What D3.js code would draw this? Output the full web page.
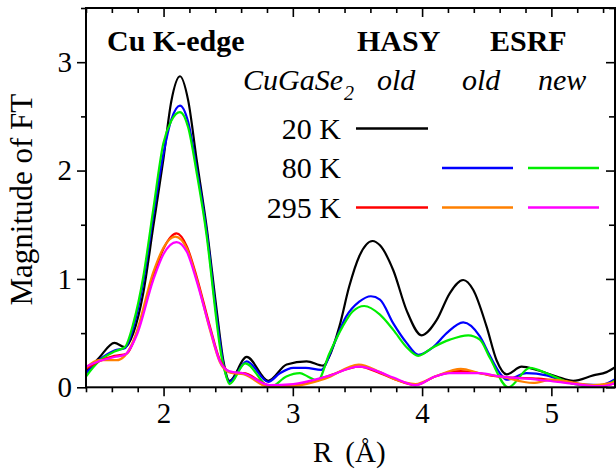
<!DOCTYPE html>
<html>
<head>
<meta charset="utf-8">
<script src="https://cdn.jsdelivr.net/npm/d3@7"></script>
<style>
  html, body { margin: 0; padding: 0; background: #fff; }
  svg { display: block; font-family: "Liberation Serif", "Times New Roman", serif; }
</style>
</head>
<body>
<svg id="chart" width="616" height="472"></svg>
<script>
// FT magnitude, Cu K-edge, CuGaSe2 — [R (Å), |FT|]
const hasy20K = [
  [1.40,0.14],[1.50,0.27],[1.62,0.41],[1.70,0.37],[1.766,0.50],[1.843,0.87],[1.92,1.48],
  [1.998,2.10],[2.06,2.64],[2.127,2.87],[2.19,2.65],[2.256,2.10],[2.333,1.48],[2.411,0.71],
  [2.462,0.25],[2.51,0.06],[2.643,0.28],[2.81,0.06],[2.952,0.21],[3.107,0.24],[3.235,0.20],
  [3.28,0.28],[3.36,0.56],[3.436,0.93],[3.514,1.21],[3.617,1.35],[3.674,1.31],[3.777,1.08],
  [3.88,0.71],[3.996,0.48],[4.112,0.62],[4.215,0.87],[4.318,0.99],[4.395,0.90],[4.499,0.56],
  [4.576,0.25],[4.654,0.12],[4.77,0.19],[4.886,0.16],[5.04,0.10],[5.169,0.06],[5.324,0.11],
  [5.427,0.14],[5.50,0.19]
];
const esrfOld80K = [
  [1.40,0.13],[1.50,0.25],[1.62,0.34],[1.70,0.36],[1.766,0.55],[1.843,0.97],[1.92,1.58],
  [1.998,2.15],[2.06,2.47],[2.127,2.60],[2.19,2.45],[2.256,2.02],[2.333,1.44],[2.411,0.65],
  [2.462,0.22],[2.51,0.05],[2.643,0.24],[2.81,0.05],[2.90,0.13],[3.003,0.18],[3.10,0.18],
  [3.22,0.16],[3.308,0.37],[3.411,0.65],[3.514,0.79],[3.604,0.84],[3.674,0.81],[3.777,0.59],
  [3.88,0.41],[3.97,0.30],[4.086,0.37],[4.19,0.50],[4.318,0.60],[4.447,0.47],[4.525,0.29],
  [4.602,0.13],[4.654,0.07],[4.808,0.13],[4.963,0.11],[5.143,0.04],[5.375,0.02],[5.50,0.08]
];
const esrfNew80K = [
  [1.40,0.10],[1.50,0.24],[1.62,0.33],[1.70,0.37],[1.766,0.59],[1.843,1.02],[1.92,1.64],
  [1.998,2.25],[2.06,2.46],[2.127,2.54],[2.19,2.40],[2.256,1.98],[2.333,1.40],[2.411,0.60],
  [2.436,0.37],[2.48,0.12],[2.51,0.03],[2.632,0.22],[2.823,0.0],[2.95,0.10],[3.055,0.13],
  [3.115,0.10],[3.192,0.06],[3.282,0.31],[3.385,0.56],[3.463,0.70],[3.552,0.75],[3.674,0.67],
  [3.777,0.53],[3.88,0.37],[3.97,0.29],[4.086,0.37],[4.215,0.44],[4.357,0.48],[4.447,0.44],
  [4.525,0.27],[4.666,0.0],[4.834,0.18],[4.963,0.13],[5.143,0.04],[5.375,0.0],[5.50,0.07]
];
const hasy295K = [
  [1.40,0.17],[1.50,0.24],[1.62,0.29],[1.715,0.31],[1.792,0.50],[1.92,1.02],[2.00,1.28],
  [2.10,1.42],[2.18,1.30],[2.256,1.02],[2.359,0.56],[2.436,0.25],[2.488,0.16],[2.54,0.13],
  [2.617,0.13],[2.82,0.02],[3.003,0.02],[3.262,0.10],[3.514,0.19],[3.674,0.13],[3.777,0.08],
  [3.95,0.02],[4.10,0.10],[4.30,0.15],[4.447,0.13],[4.525,0.11],[4.70,0.09],[4.90,0.08],
  [5.10,0.05],[5.375,0.01],[5.50,0.04]
];
const esrfOld295K = [
  [1.40,0.18],[1.50,0.25],[1.635,0.25],[1.70,0.29],[1.78,0.47],[1.92,1.06],[2.00,1.29],
  [2.09,1.39],[2.18,1.28],[2.256,1.00],[2.359,0.53],[2.436,0.23],[2.488,0.15],[2.54,0.13],
  [2.617,0.12],[2.82,0.0],[3.003,0.01],[3.25,0.08],[3.51,0.21],[3.674,0.14],[3.777,0.08],
  [3.95,0.03],[4.10,0.10],[4.30,0.17],[4.447,0.13],[4.60,0.10],[4.86,0.04],[5.00,0.07],
  [5.324,0.02],[5.50,0.05]
];
const esrfNew295K = [
  [1.40,0.19],[1.50,0.24],[1.62,0.28],[1.70,0.30],[1.792,0.48],[1.92,0.99],[2.00,1.23],
  [2.10,1.34],[2.18,1.25],[2.256,0.98],[2.359,0.54],[2.436,0.24],[2.488,0.16],[2.54,0.14],
  [2.617,0.13],[2.82,0.02],[3.003,0.03],[3.262,0.10],[3.514,0.19],[3.674,0.14],[3.777,0.09],
  [3.95,0.02],[4.10,0.10],[4.215,0.13],[4.447,0.13],[4.60,0.10],[4.808,0.08],[5.05,0.05],
  [5.375,0.01],[5.50,0.04]
];

const xTicks = [2, 3, 4, 5];
const yTicks = [0, 1, 2, 3];

// series: data, colour, legend row (0..2), legend column (0..2)
const series = [
  { data: hasy20K,     color: '#000000', row: 0, col: 0 },
  { data: esrfOld80K,  color: '#0000ff', row: 1, col: 1 },
  { data: esrfNew80K,  color: '#00ee00', row: 1, col: 2 },
  { data: hasy295K,    color: '#ff0000', row: 2, col: 0 },
  { data: esrfOld295K, color: '#ff8000', row: 2, col: 1 },
  { data: esrfNew295K, color: '#ff00ff', row: 2, col: 2 }
];
const tempLabels = ['20 K', '80 K', '295 K'];

const M = { left: 86, right: 616, top: 8, bottom: 387.3 };
const FONT = 29;

const svg = d3.select('#chart');
const x = d3.scaleLinear().domain([1.4, 5.5]).range([M.left, M.right]);
const y = d3.scaleLinear().domain([0, 3.5]).range([M.bottom, M.top]);

svg.append('clipPath').attr('id', 'clip')
  .append('rect')
  .attr('x', M.left).attr('y', M.top)
  .attr('width', M.right - M.left).attr('height', M.bottom - M.top);

// curves
const line = d3.line().x(d => x(d[0])).y(d => y(d[1])).curve(d3.curveMonotoneX);
svg.append('g').attr('clip-path', 'url(#clip)')
  .selectAll('path')
  .data(series)
  .join('path')
  .attr('d', d => line(d.data))
  .attr('fill', 'none')
  .attr('stroke', d => d.color)
  .attr('stroke-width', 2.2)
  .attr('stroke-linejoin', 'round');

// axes
const minorX = d3.range(1.4, 5.5001, 0.2).filter(v => Math.abs(v - Math.round(v)) > 0.01);
const minorY = [0.5, 1.5, 2.5, 3.5];

function styleAxis(g) {
  g.select('.domain').remove();
  g.selectAll('line').attr('stroke', '#000').attr('stroke-width', 1.6);
  g.selectAll('text').attr('font-size', FONT).attr('font-family', 'Liberation Serif, serif').attr('fill', '#000');
}

// bottom (outward)
svg.append('g').attr('transform', `translate(0,${M.bottom})`)
  .call(d3.axisBottom(x).tickValues(xTicks).tickSize(9).tickPadding(6).tickFormat(d3.format('d')))
  .call(styleAxis);
svg.append('g').attr('transform', `translate(0,${M.bottom})`)
  .call(d3.axisBottom(x).tickValues(minorX).tickSize(5).tickFormat(''))
  .call(styleAxis);
// top (inward)
svg.append('g').attr('transform', `translate(0,${M.top})`)
  .call(d3.axisBottom(x).tickValues(xTicks).tickSize(9).tickFormat(''))
  .call(styleAxis);
svg.append('g').attr('transform', `translate(0,${M.top})`)
  .call(d3.axisBottom(x).tickValues(minorX).tickSize(5).tickFormat(''))
  .call(styleAxis);
// left (outward)
svg.append('g').attr('transform', `translate(${M.left},0)`)
  .call(d3.axisLeft(y).tickValues(yTicks).tickSize(9).tickPadding(5).tickFormat(d3.format('d')))
  .call(styleAxis);
svg.append('g').attr('transform', `translate(${M.left},0)`)
  .call(d3.axisLeft(y).tickValues(minorY).tickSize(5).tickFormat(''))
  .call(styleAxis);
// right (inward)
svg.append('g').attr('transform', `translate(${M.right - 1},0)`)
  .call(d3.axisRight(y).tickValues(yTicks).tickSize(-9).tickFormat(''))
  .call(styleAxis);
svg.append('g').attr('transform', `translate(${M.right - 1},0)`)
  .call(d3.axisRight(y).tickValues(minorY).tickSize(-6).tickFormat(''))
  .call(styleAxis);

// frame
svg.append('rect')
  .attr('x', M.left).attr('y', M.top)
  .attr('width', M.right - 1 - M.left).attr('height', M.bottom - M.top)
  .attr('fill', 'none').attr('stroke', '#000').attr('stroke-width', 2);

// axis titles
svg.append('text')
  .attr('transform', `translate(32,${(M.top + M.bottom) / 2 + 2}) rotate(-90)`)
  .attr('text-anchor', 'middle')
  .attr('font-size', 31)
  .text('Magnitude of FT');

const xt = svg.append('text')
  .attr('x', 313).attr('y', 462)
  .attr('font-size', FONT);
xt.append('tspan').text('R');
xt.append('tspan').attr('dx', 13).text('(Å)');

// header texts
const bold = (t, px, py) => svg.append('text').attr('x', px).attr('y', py)
  .attr('font-size', 30).attr('font-weight', 'bold').text(t);
bold('Cu K-edge', 107, 51);
bold('HASY', 357, 51);
bold('ESRF', 490, 51);

const ital = svg.append('text').attr('x', 243).attr('y', 90)
  .attr('font-size', 30).attr('font-style', 'italic');
ital.append('tspan').text('CuGaSe');
ital.append('tspan').attr('dy', 10).attr('dx', 1).attr('font-size', 20).text('2');

const colX = [[356, 428], [442, 513], [528, 599]];
const colHead = ['old', 'old', 'new'];
const colHeadX = [377, 462, 538];
colHead.forEach((t, i) => {
  svg.append('text').attr('x', colHeadX[i]).attr('y', 90)
    .attr('font-size', 30).attr('font-style', 'italic').text(t);
});

const rowY = [128.5, 168, 207.5];
tempLabels.forEach((t, i) => {
  svg.append('text').attr('x', 341).attr('y', rowY[i] + 10)
    .attr('text-anchor', 'end').attr('font-size', 30).text(t);
});

svg.append('g').selectAll('line')
  .data(series)
  .join('line')
  .attr('x1', d => colX[d.col][0])
  .attr('x2', d => colX[d.col][1])
  .attr('y1', d => rowY[d.row])
  .attr('y2', d => rowY[d.row])
  .attr('stroke', d => d.color)
  .attr('stroke-width', 2.4);
</script>
</body>
</html>
